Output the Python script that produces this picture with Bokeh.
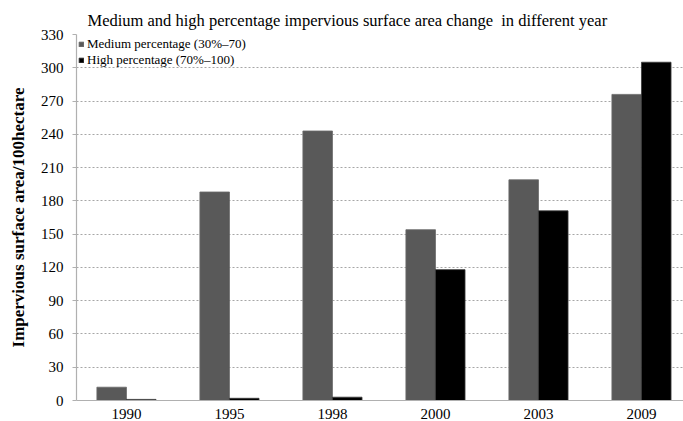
from bokeh.plotting import figure
from bokeh.models import ColumnDataSource, FixedTicker, Legend, LegendItem, Title
from bokeh.transform import dodge
from bokeh.embed import file_html
from bokeh.resources import INLINE

years = ["1990", "1995", "1998", "2000", "2003", "2009"]
medium = [12, 188, 243, 154, 199, 276]
high = [1, 2, 3, 118, 171, 305]
y_ticks = [0, 30, 60, 90, 120, 150, 180, 210, 240, 270, 300, 330]
series_labels = ["Medium percentage (30%\u201370)", "High percentage (70%\u2013100)"]
title_text = "Medium and high percentage impervious surface area change\u00a0 in different year"
y_label = "Impervious surface area/100hectare"

FONT = "Liberation Serif"

src = ColumnDataSource(dict(x=list(range(len(years))), medium=medium, high=high))

p = figure(width=683, height=421, output_backend="svg", toolbar_location=None,
           x_range=(-0.485, 5.408), y_range=(0, 330),
           min_border_left=76, min_border_right=0, min_border_top=34, min_border_bottom=20)
p.outline_line_color = None

bw = 0.287
r1 = p.vbar(x=dodge("x", -bw / 2), top="medium", width=bw, source=src,
            fill_color="#595959", line_color="#6a6a6a", line_width=0.8)
r2 = p.vbar(x=dodge("x", bw / 2), top="high", width=bw, source=src,
            fill_color="#000000", line_color="#3a3a3a", line_width=0.8)

p.title = Title(text=title_text, align="left", offset=11, text_font=FONT,
                text_font_size="16.5px", text_font_style="normal", text_color="#000000",
                text_line_height=1.0, standoff=10)

# x axis
p.xaxis.ticker = FixedTicker(ticks=list(range(len(years))))
p.xaxis.major_label_overrides = {i: y for i, y in enumerate(years)}
p.xaxis.major_tick_line_color = None
p.xaxis.minor_tick_line_color = None
p.xaxis.major_label_standoff = 2
p.xaxis.major_label_text_font = FONT
p.xaxis.major_label_text_font_size = "15px"
p.xaxis.major_label_text_color = "#000000"
p.xaxis.axis_line_color = "#b0b0b0"
p.xaxis.axis_line_width = 1.2

# y axis
p.yaxis.ticker = FixedTicker(ticks=y_ticks)
p.yaxis.minor_tick_line_color = None
p.yaxis.major_tick_out = 4
p.yaxis.major_tick_in = 0
p.yaxis.major_tick_line_color = "#b0b0b0"
p.yaxis.major_label_standoff = 9
p.yaxis.major_label_text_font = FONT
p.yaxis.major_label_text_font_size = "15px"
p.yaxis.major_label_text_color = "#000000"
p.yaxis.axis_line_color = "#b0b0b0"
p.yaxis.axis_line_width = 1.2
p.yaxis.axis_label = y_label
p.yaxis.axis_label_text_font = FONT
p.yaxis.axis_label_text_font_size = "17px"
p.yaxis.axis_label_text_font_style = "bold"
p.yaxis.axis_label_text_color = "#000000"
p.yaxis.axis_label_standoff = 10

p.xgrid.grid_line_color = None
p.ygrid.grid_line_color = "#a6a6a6"
p.ygrid.grid_line_dash = "2 2"
p.ygrid.grid_line_width = 1

legend = Legend(items=[LegendItem(label=series_labels[0], renderers=[r1]),
                       LegendItem(label=series_labels[1], renderers=[r2])],
                location="top_left", margin=2, padding=2, spacing=0,
                glyph_width=6, glyph_height=6, label_height=13, label_standoff=3,
                label_text_font=FONT, label_text_font_size="13px",
                label_text_color="#000000",
                background_fill_alpha=0, border_line_color=None)
p.add_layout(legend)

open("out.html", "w").write(file_html(p, INLINE))
